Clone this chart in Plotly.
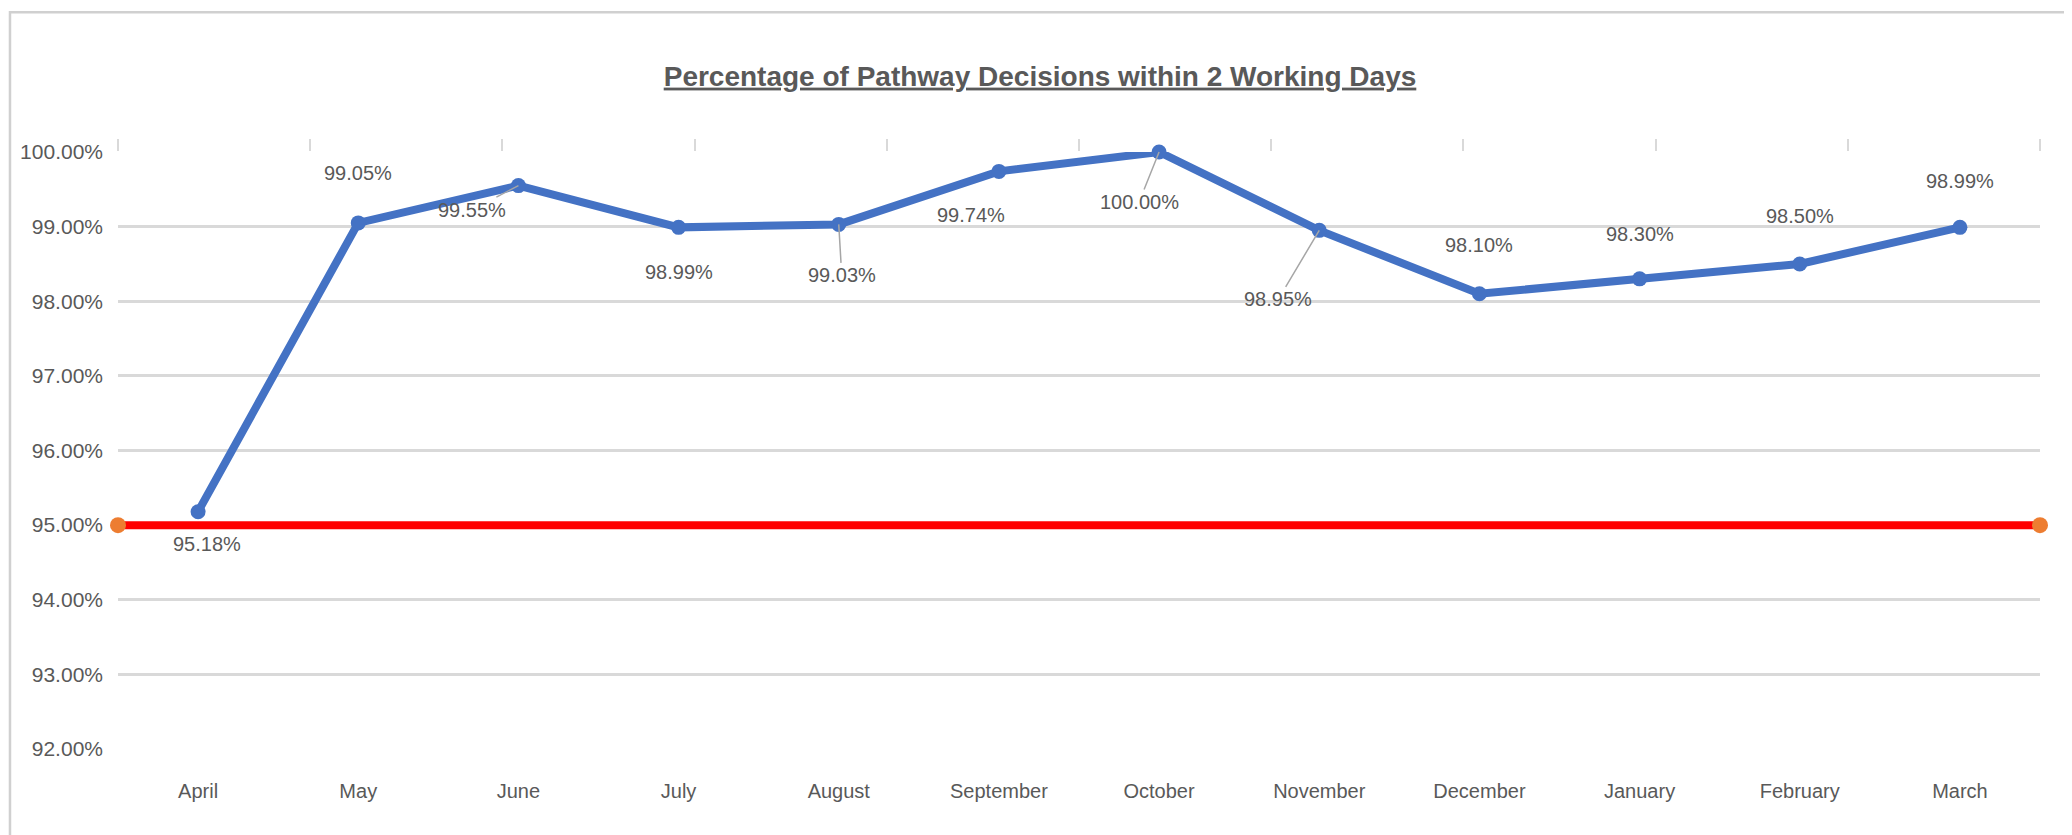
import plotly.graph_objects as go

# ---- data ----
months = ["April", "May", "June", "July", "August", "September", "October",
          "November", "December", "January", "February", "March"]
pct_within_2_days = [0.9518, 0.9905, 0.9955, 0.9899, 0.9903, 0.9974, 1.0000,
                     0.9895, 0.9810, 0.9830, 0.9850, 0.9899]
target_x = [0, 1]
target_value = [0.95, 0.95]
y_ticks = [0.92, 0.93, 0.94, 0.95, 0.96, 0.97, 0.98, 0.99, 1.00]

# ---- label placement (pixel offsets: dx, dy(+down), leader line) ----
label_offsets = [(9, 32, False), (0, -50, False), (-46, 24, True), (0, 45, False),
                 (3, 51, True), (-28, 44, False), (-20, 50, True), (-41, 69, True),
                 (0, -49, False), (0, -45, False), (0, -48, False), (0, -46, False)]

FONT = "Liberation Sans Narrow, Arial Narrow, Liberation Sans, Arial, sans-serif"
GREY_TXT = "#595959"
GRID = "#d9d9d9"

fig = go.Figure()

fig.add_trace(go.Scatter(
    x=list(range(len(months))), y=pct_within_2_days, mode="lines+markers",
    line=dict(color="#4472C4", width=8), marker=dict(color="#4472C4", size=15),
    cliponaxis=False, showlegend=False, hoverinfo="x+y"))

fig.add_trace(go.Scatter(
    x=target_x, y=target_value, xaxis="x2", mode="lines+markers",
    line=dict(color="#FF0000", width=8), marker=dict(color="#ED7D31", size=16),
    cliponaxis=False, showlegend=False))

annotations = []
for i, (v, (dx, dy, leader)) in enumerate(zip(pct_within_2_days, label_offsets)):
    txt = f"{v*100:.2f}%"
    if leader:
        annotations.append(dict(x=i, y=v, xref="x", yref="y", text=txt,
                                showarrow=True, arrowhead=0, arrowwidth=1.5,
                                arrowcolor="#a6a6a6", ax=dx, ay=dy, standoff=0,
                                font=dict(family=FONT, size=20, color=GREY_TXT)))
    else:
        annotations.append(dict(x=i, y=v, xref="x", yref="y", text=txt,
                                showarrow=False, xshift=dx, yshift=-dy,
                                font=dict(family=FONT, size=20, color=GREY_TXT)))

fig.update_layout(
    width=2064, height=827,
    margin=dict(l=110, r=32, t=144, b=86),
    paper_bgcolor="white", plot_bgcolor="white",
    font=dict(family=FONT, color=GREY_TXT),
    title=dict(text="<b><u>Percentage of Pathway Decisions within 2 Working Days</u></b>",
               x=0.5, xanchor="center", y=0.918, yanchor="middle",
               font=dict(family=FONT, size=28, color=GREY_TXT)),
    xaxis=dict(range=[-0.5, len(months) - 0.5], tickmode="array",
               tickvals=list(range(len(months))), ticktext=months,
               showgrid=False, zeroline=False, showline=False, ticks="",
               ticklabelstandoff=28,
               tickfont=dict(family=FONT, size=20, color=GREY_TXT)),
    xaxis2=dict(range=[0, 1], overlaying="x", side="top", tickmode="linear",
                tick0=0, dtick=0.1, ticks="outside", ticklen=12, tickwidth=2,
                tickcolor=GRID, showticklabels=False, showgrid=False,
                zeroline=False, showline=False),
    yaxis=dict(range=[0.92, 1.0], tickmode="array", tickvals=y_ticks,
               tickformat=".2%", showgrid=True, gridcolor=GRID, gridwidth=2.5,
               zeroline=False, showline=False, ticks="", ticklabelstandoff=14,
               tickfont=dict(family=FONT, size=21, color=GREY_TXT)),
    annotations=annotations,
    shapes=[dict(type="rect", xref="paper", yref="paper",
                 x0=-0.0562, x1=1.0255, y0=-0.2, y1=1.234,
                 line=dict(color="#d0d0d0", width=2.5), layer="below")],
)

fig.write_html("out.html")
